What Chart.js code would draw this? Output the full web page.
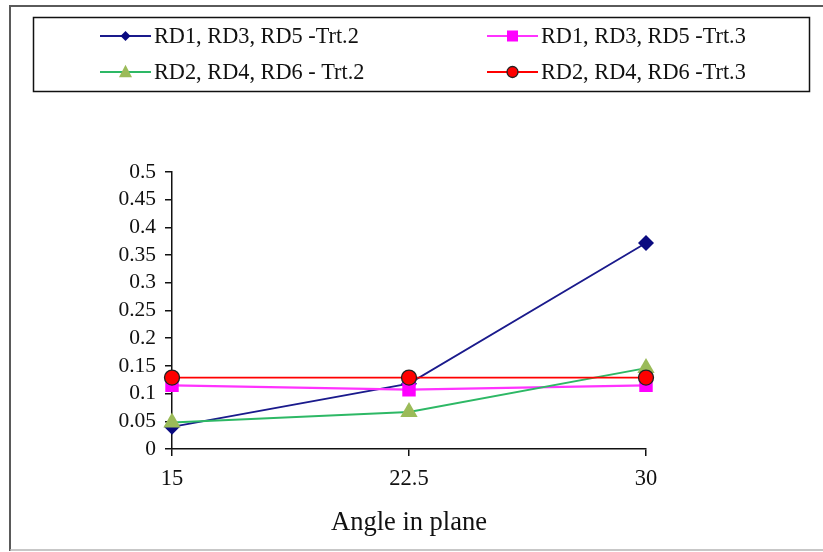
<!DOCTYPE html>
<html>
<head>
<meta charset="utf-8">
<script src="https://cdn.jsdelivr.net/npm/chart.js@4"></script>
<style>
  html, body { margin: 0; padding: 0; background: #fff; }
  #wrap { width: 823px; height: 552px; position: relative; }
</style>
</head>
<body>
<div id="wrap"><canvas id="c" width="823" height="552"></canvas></div>
<script>
// Angles in plane (x categories)
const angles = ['15', '22.5', '30'];

// Series values
const rd135Trt2 = [0.040, 0.118, 0.372];
const rd135Trt3 = [0.115, 0.107, 0.115];
const rd246Trt2 = [0.048, 0.067, 0.146];
const rd246Trt3 = [0.129, 0.129, 0.129];

// Series names
const seriesNames = [
  'RD1, RD3, RD5 -Trt.2',
  'RD1, RD3, RD5 -Trt.3',
  'RD2, RD4, RD6 - Trt.2',
  'RD2, RD4, RD6 -Trt.3'
];

// Y axis tick values
const yTicks = [0, 0.05, 0.1, 0.15, 0.2, 0.25, 0.3, 0.35, 0.4, 0.45, 0.5];

const axisTitle = 'Angle in plane';
const SERIF = '"Liberation Serif", "Times New Roman", serif';

// Outer frame and boxed two-column legend
const framePlugin = {
  id: 'frameAndLegend',
  beforeDraw(chart) {
    const ctx = chart.ctx;
    ctx.save();
    ctx.fillStyle = '#fff';
    ctx.fillRect(0, 0, chart.width, chart.height);
    // outer frame
    ctx.strokeStyle = '#5a5a5a';
    ctx.lineWidth = 2;
    ctx.beginPath();
    ctx.moveTo(10, 551);
    ctx.lineTo(10, 6);
    ctx.lineTo(chart.width, 6);
    ctx.stroke();
    ctx.strokeStyle = '#b4b4b4';
    ctx.lineWidth = 1.5;
    ctx.beginPath();
    ctx.moveTo(10, 550);
    ctx.lineTo(chart.width, 550);
    ctx.stroke();
    ctx.restore();
  },
  afterDraw(chart) {
    const ctx = chart.ctx;
    ctx.save();
    // legend box
    ctx.strokeStyle = '#111';
    ctx.lineWidth = 1.5;
    ctx.strokeRect(33.5, 17.5, 776, 74);
    const cols = [100, 487];
    const rows = [36, 72];
    chart.data.datasets.forEach((ds, i) => {
      const x = cols[i % 2];
      const y = rows[Math.floor(i / 2)];
      ctx.strokeStyle = ds.borderColor;
      ctx.lineWidth = 2;
      ctx.beginPath();
      ctx.moveTo(x, y);
      ctx.lineTo(x + 51, y);
      ctx.stroke();
      drawMarker(ctx, ds, x + 25.5, y);
      ctx.fillStyle = '#111';
      ctx.font = '22.3px ' + SERIF;
      ctx.textBaseline = 'middle';
      ctx.textAlign = 'left';
      ctx.fillText(ds.label, x + 54, y + 1);
    });
    ctx.restore();
  }
};

function drawMarker(ctx, ds, x, y) {
  ctx.save();
  ctx.fillStyle = ds.pointBackgroundColor;
  ctx.strokeStyle = ds.pointBorderColor;
  ctx.lineWidth = ds.pointBorderWidth;
  const r = ds.legendRadius;
  ctx.beginPath();
  if (ds.pointStyle === 'rectRot') {
    ctx.moveTo(x, y - r); ctx.lineTo(x + r, y); ctx.lineTo(x, y + r); ctx.lineTo(x - r, y); ctx.closePath();
  } else if (ds.pointStyle === 'rect') {
    ctx.rect(x - r, y - r, 2 * r, 2 * r);
  } else if (ds.pointStyle === 'triangle') {
    ctx.moveTo(x, y - r * 1.1); ctx.lineTo(x + r, y + r * 0.8); ctx.lineTo(x - r, y + r * 0.8); ctx.closePath();
  } else {
    ctx.arc(x, y, r, 0, Math.PI * 2);
  }
  ctx.fill();
  if (ds.pointBorderWidth > 0) ctx.stroke();
  ctx.restore();
}

new Chart(document.getElementById('c'), {
  type: 'line',
  data: {
    labels: angles,
    datasets: [
      {
        label: seriesNames[0], data: rd135Trt2,
        borderColor: '#1a1a8c', borderWidth: 1.8,
        pointStyle: 'rectRot', pointRadius: 8, pointBackgroundColor: '#0a0a80',
        pointBorderColor: '#0a0a80', pointBorderWidth: 0, legendRadius: 5, order: 3
      },
      {
        label: seriesNames[1], data: rd135Trt3,
        borderColor: '#ff33ff', borderWidth: 2.2,
        pointStyle: 'rect', pointRadius: 9.5, pointBackgroundColor: '#ff00ff',
        pointBorderColor: '#ff00ff', pointBorderWidth: 0, legendRadius: 5.5, order: 2
      },
      {
        label: seriesNames[2], data: rd246Trt2,
        borderColor: '#2db865', borderWidth: 2,
        pointStyle: 'triangle', pointRadius: 10, pointBackgroundColor: '#9bbb59',
        pointBorderColor: '#9bbb59', pointBorderWidth: 0, legendRadius: 6.5, order: 1
      },
      {
        label: seriesNames[3], data: rd246Trt3,
        borderColor: '#ff0000', borderWidth: 1.8,
        pointStyle: 'circle', pointRadius: 7.5, pointBackgroundColor: '#ff0000',
        pointBorderColor: '#222', pointBorderWidth: 1.3, legendRadius: 5.5, order: 0
      }
    ]
  },
  options: {
    responsive: false,
    animation: false,
    devicePixelRatio: 1,
    layout: { padding: { top: 0, right: 0, bottom: 0, left: 0 } },
    elements: { line: { tension: 0 } },
    plugins: { legend: { display: false }, tooltip: { enabled: false } },
    scales: {
      x: {
        type: 'category',
        offset: false,
        afterFit(scale) { scale.height = 103; scale.paddingRight = 0; scale.paddingLeft = 0; },
        grid: { drawOnChartArea: false, drawTicks: true, tickLength: 7, color: '#111', lineWidth: 1.5 },
        border: { color: '#111', width: 1.5 },
        ticks: { color: '#111', font: { family: SERIF, size: 22.5 }, padding: 10, maxRotation: 0, autoSkip: false },
        title: { display: true, text: axisTitle, color: '#111', font: { family: SERIF, size: 26.5 }, padding: { top: 4, bottom: 13 } }
      },
      y: {
        min: 0, max: 0.5,
        afterFit(scale) { scale.width = 172; },
        afterBuildTicks(scale) { scale.ticks = yTicks.map(v => ({ value: v })); },
        grid: { drawOnChartArea: false, drawTicks: true, tickLength: 7, color: '#111', lineWidth: 1.5 },
        border: { color: '#111', width: 1.5 },
        ticks: { color: '#111', font: { family: SERIF, size: 21.5 }, padding: 9, autoSkip: false, callback: v => String(+v.toFixed(2)) }
      }
    }
  },
  plugins: [framePlugin, {
    id: 'fixArea',
    beforeLayout(chart) {
      chart.options.layout.padding = { top: 172, right: 823 - 646, bottom: 0, left: 0 };
    }
  }]
});
</script>
</body>
</html>
